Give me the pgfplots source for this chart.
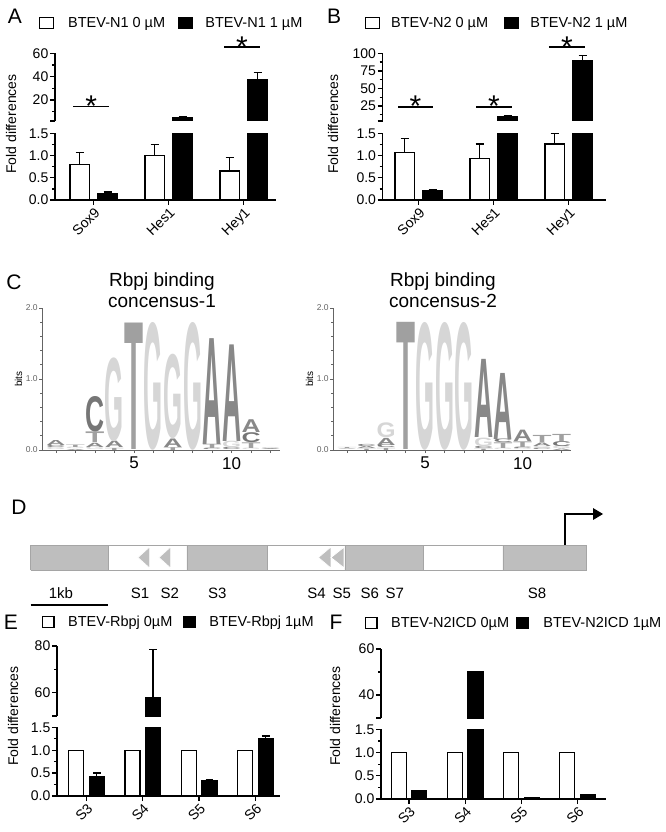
\documentclass[border=0pt]{standalone}
\usepackage{pgfplots}
\pgfplotsset{compat=1.18}
\usepackage{pgfplotstable}
\usepackage{fontspec}
\setmainfont{Liberation Sans}
\usepackage{graphicx}
\usetikzlibrary{arrows.meta}
\newcommand{\fs}[1]{\fontsize{#1pt}{#1pt}\selectfont}
\definecolor{lG}{RGB}{214,214,214}
\definecolor{lT}{RGB}{160,160,160}
\definecolor{lA}{RGB}{136,136,136}
\definecolor{lC}{RGB}{118,118,118}
\definecolor{segG}{RGB}{190,190,190}
\definecolor{segD}{RGB}{165,165,165}
\definecolor{axG}{RGB}{100,100,100}

\pgfplotstableread{
x w we b be
0 0.80 0.27 0.15 0.03
1 1.00 0.25 4.5 1.0
2 0.65 0.30 37.2 6.2
}\Adata
\pgfplotstableread{
x w we b be
0 1.07 0.32 0.21 0.02
1 0.93 0.33 9.8 1.4
2 1.26 0.24 89 7.6
}\Bdata
\pgfplotstableread{
x w b be
0 1 0.43 0.07
1 1 57.8 20.7
2 1 0.33 0.02
3 1 1.26 0.05
}\Edata
\pgfplotstableread{
x w b
0 1 0.18
1 1 50
2 1 0.02
3 1 0.10
}\Fdata
\pgfplotstableread{
x y h L
1 0 0.03 G
1 0.03 0.03 C
1 0.06 0.07 A
2 0 0.015 A
2 0.015 0.02 G
2 0.035 0.035 T
3 0 0.04 G
3 0.04 0.06 A
3 0.10 0.15 T
3 0.25 0.50 C
4 0 0.03 T
4 0.03 0.09 A
4 0.12 1.18 G
5 0 1.78 T
6 0 1.80 G
7 0 0.04 T
7 0.04 0.12 A
7 0.16 1.19 G
8 0 1.80 G
9 0 0.02 C
9 0.02 0.06 T
9 0.08 1.49 A
10 0 0.03 C
10 0.03 0.09 G
10 0.12 1.36 A
11 0 0.02 G
11 0.02 0.08 T
11 0.10 0.14 C
11 0.24 0.18 A
12 0 0.01 T
12 0.01 0.015 A
12 0.025 0.015 G
}\LogoA
\pgfplotstableread{
x y h L
1 0 0.01 A
1 0.01 0.01 G
1 0.02 0.015 T
2 0 0.02 T
2 0.02 0.03 A
2 0.05 0.03 C
3 0 0.03 T
3 0.03 0.04 C
3 0.07 0.10 A
3 0.17 0.21 G
4 0 1.79 T
5 0 1.80 G
6 0 1.80 G
7 0 1.80 G
8 0 0.02 T
8 0.02 0.03 C
8 0.05 0.12 G
8 0.17 1.10 A
9 0 0.02 G
9 0.02 0.08 T
9 0.10 0.05 C
9 0.15 0.93 A
10 0 0.02 G
10 0.02 0.02 C
10 0.04 0.08 T
10 0.12 0.16 A
11 0 0.02 C
11 0.02 0.03 G
11 0.05 0.05 A
11 0.10 0.10 T
12 0 0.02 A
12 0.02 0.03 G
12 0.05 0.07 C
12 0.12 0.10 T
}\LogoB

\pgfplotsset{
  bax/.style={scale only axis, anchor=south west, axis y line*=left, tick align=outside,
    axis line style={line width=1.4pt, black}, tick style={line width=1.3pt, black},
    major tick length=5pt, minor tick length=3pt,
    yticklabel style={font=\fs{14}, inner xsep=1.5pt},
    xticklabel style={font=\fs{14}, rotate=45, anchor=north east, inner sep=1pt},
    legend cell align=left,
    legend style={draw=none, fill=none, inner sep=0pt, outer sep=0pt, anchor=west,
       legend columns=2, font=\fs{14.5}, nodes={inner sep=0pt}},
  },
  up/.style={bax, axis x line=none},
  lo/.style={bax, axis x line*=bottom, ymin=0, ymax=1.5, ytick={0,0.5,1,1.5},
    yticklabels={0.0,0.5,1.0,1.5}, minor ytick={0.25,0.75,1.25}},
  ov/.style={scale only axis, anchor=south west, hide axis, clip=false},
  lgbox/.style={legend image code/.code={\draw[##1, line width=1.2pt] (0pt,-5pt) rectangle (#1pt,6pt);}},
  wbarAB/.style={ybar, bar width=19.3pt, bar shift=0pt, fill=white, draw=black, line width=1.3pt, lgbox=14},
  kbarAB/.style={ybar, bar width=19.3pt, bar shift=0pt, fill=black, draw=black, line width=1.3pt, lgbox=14},
  wbarEF/.style={ybar, bar width=15pt, bar shift=0pt, fill=white, draw=black, line width=1.3pt, lgbox=11.6},
  kbarEF/.style={ybar, bar width=15pt, bar shift=0pt, fill=black, draw=black, line width=1.3pt, lgbox=11.6},
  ebar/.style={error bars/.cd, y dir=plus, y explicit, error bar style={line width=1.3pt, black},
    error mark options={rotate=90, mark size=#1, line width=1.3pt, black}},
  ebar/.default=4.2pt,
  sig/.style={black, line width=1.7pt},
  logoax/.style={scale only axis, anchor=south west, width=237.9pt, height=142pt,
    xmin=0.3, xmax=12.5, ymin=0, ymax=2, axis x line*=bottom, axis y line*=left, clip=false,
    axis line style={axG, line width=0.8pt}, tick style={axG, line width=0.8pt},
    tick align=outside, major tick length=3pt, minor tick length=2pt,
    xtick={1,2,3,4,5,6,7,8,9,10,11,12}, xticklabels={,,,,5,,,,,10,,},
    xticklabel style={font=\fs{17}, inner sep=1pt, yshift=-3pt},
    ytick={0,1,2}, yticklabels={0.0,1.0,2.0},
    minor ytick={0.2,0.4,0.6,0.8,1.2,1.4,1.6,1.8},
    yticklabel style={font=\fs{8.5}, text=axG, inner sep=1.5pt},
    ylabel={bits}, ylabel style={font=\fs{10}, text=axG},
    every axis y label/.style={at={(axis description cs:-0.1,0.5)}, rotate=90, anchor=center}},
  letters/.style={only marks, mark=none, point meta=explicit symbolic,
    visualization depends on={71*\thisrow{h} \as \hh},
    nodes near coords={\resizebox*{19pt}{\hh pt}{\textcolor{l\pgfplotspointmeta}{\bfseries\pgfplotspointmeta}}},
    every node near coord/.append style={anchor=south, inner sep=0pt, outer sep=0pt}},
}
\tikzset{star/.style={anchor=base, yshift=-9.7pt, font=\fs{30}, inner sep=0pt}}

\begin{document}
\begin{tikzpicture}
\path[use as bounding box] (0,0) rectangle (666pt,-832pt);

% ---------------- Panel A ----------------
\begin{axis}[up, at={(55pt,-121pt)}, width=221pt, height=67.7pt,
  xmin=-0.516, xmax=2.43, ymin=2, ymax=60,
  ytick={20,40,60}, yticklabels={20,40,60}, minor ytick={10,30,50},
  extra y ticks={2}, extra y tick labels={}]
 \addplot[kbarAB, restrict y to domain=2:1000, ebar] table[x expr=\thisrow{x}+0.1867, y=b, y error=be] {\Adata};
\end{axis}
\begin{axis}[lo, at={(55pt,-200pt)}, width=221pt, height=66.7pt,
  xmin=-0.516, xmax=2.43, xtick={0,1,2}, xticklabels={Sox9,Hes1,Hey1},
  legend style={at={(-0.0724,2.654)}}]
 \addplot[wbarAB, ebar] table[x expr=\thisrow{x}-0.1867, y=w, y error=we] {\Adata};
 \addlegendentry{\makebox[124pt][l]{\hspace{14pt}BTEV-N1 0 µM}}
 \addplot[kbarAB, ebar] table[x expr=\thisrow{x}+0.1867, y=b, y error=be] {\Adata};
 \addlegendentry{\hspace{12pt}BTEV-N1 1 µM}
\end{axis}
\begin{axis}[ov, at={(55pt,-121pt)}, width=221pt, height=67.7pt,
  xmin=-0.516, xmax=2.43, ymin=2, ymax=60]
 \addplot[sig] coordinates {(-0.272,14.3) (0.204,14.3)};
 \addplot[sig] coordinates {(1.737,65.1) (2.217,65.1)};
 \node[star] at (axis cs:-0.034,14.3) {*};
 \node[star] at (axis cs:1.977,65.1) {*};
\end{axis}

% ---------------- Panel B ----------------
\begin{axis}[up, at={(382.7pt,-121pt)}, width=223.3pt, height=67.7pt,
  xmin=-0.48, xmax=2.497, ymin=3.7, ymax=100,
  ytick={25,50,75,100}, yticklabels={25,50,75,100}, minor ytick={12.5,37.5,62.5,87.5},
  extra y ticks={3.7}, extra y tick labels={}]
 \addplot[kbarAB, restrict y to domain=3.7:1000, ebar] table[x expr=\thisrow{x}+0.1867, y=b, y error=be] {\Bdata};
\end{axis}
\begin{axis}[lo, at={(382.7pt,-200pt)}, width=223.3pt, height=66.7pt,
  xmin=-0.48, xmax=2.497, xtick={0,1,2}, xticklabels={Sox9,Hes1,Hey1},
  legend style={at={(-0.0793,2.654)}}]
 \addplot[wbarAB, ebar] table[x expr=\thisrow{x}-0.1867, y=w, y error=we] {\Bdata};
 \addlegendentry{\makebox[124pt][l]{\hspace{11pt}BTEV-N2 0 µM}}
 \addplot[kbarAB, ebar] table[x expr=\thisrow{x}+0.1867, y=b, y error=be] {\Bdata};
 \addlegendentry{\hspace{11pt}BTEV-N2 1 µM}
\end{axis}
\begin{axis}[ov, at={(382.7pt,-121pt)}, width=223.3pt, height=67.7pt,
  xmin=-0.48, xmax=2.497, ymin=3.7, ymax=100]
 \addplot[sig] coordinates {(-0.276,23.4) (0.19,23.4)};
 \addplot[sig] coordinates {(0.764,23.4) (1.244,23.4)};
 \addplot[sig] coordinates {(1.737,108.5) (2.217,108.5)};
 \node[star] at (axis cs:-0.043,23.4) {*};
 \node[star] at (axis cs:1.004,23.4) {*};
 \node[star] at (axis cs:1.977,108.5) {*};
\end{axis}

% ---------------- Panel C ----------------
\node[align=center, font=\fontsize{19pt}{21pt}\selectfont, inner sep=0pt] at (162pt,-290pt) {Rbpj binding\\concensus-1};
\node[align=center, font=\fontsize{19pt}{21pt}\selectfont, inner sep=0pt] at (443pt,-290pt) {Rbpj binding\\concensus-2};
\begin{axis}[logoax, at={(42.35pt,-450pt)}]
 \addplot[letters] table[x=x, y=y, meta=L] {\LogoA};
\end{axis}
\begin{axis}[logoax, at={(333.4pt,-450pt)}]
 \addplot[letters] table[x=x, y=y, meta=L] {\LogoB};
\end{axis}

% ---------------- Panel D ----------------
\begin{axis}[hide axis, clip=false, x=77.8pt, y=25pt, xmin=0, xmax=7.4, ymin=-1.6, ymax=2.4,
  anchor=south west, at={(30.6pt,-610pt)}]
 \addplot[fill=segG, draw=segD, line width=0.6pt] coordinates {(0,0) (1,0) (1,1) (0,1) (0,0)};
 \addplot[fill=white, draw=segD, line width=0.6pt] coordinates {(1,0) (2.01,0) (2.01,1) (1,1) (1,0)};
 \addplot[fill=segG, draw=segD, line width=0.6pt] coordinates {(2.01,0) (3.04,0) (3.04,1) (2.01,1) (2.01,0)};
 \addplot[fill=white, draw=segD, line width=0.6pt] coordinates {(3.04,0) (4.04,0) (4.04,1) (3.04,1) (3.04,0)};
 \addplot[fill=segG, draw=segD, line width=0.6pt] coordinates {(4.04,0) (5.05,0) (5.05,1) (4.04,1) (4.04,0)};
 \addplot[fill=white, draw=segD, line width=0.6pt] coordinates {(5.05,0) (6.07,0) (6.07,1) (5.05,1) (5.05,0)};
 \addplot[fill=segG, draw=segD, line width=0.6pt] coordinates {(6.07,0) (7.14,0) (7.14,1) (6.07,1) (6.07,0)};
 \addplot[fill=segG, draw=white, line width=0.6pt] coordinates {(1.53,0.08) (1.53,0.92) (1.38,0.5) (1.53,0.08)};
 \addplot[fill=segG, draw=white, line width=0.6pt] coordinates {(1.80,0.08) (1.80,0.92) (1.65,0.5) (1.80,0.08)};
 \addplot[fill=segG, draw=white, line width=0.6pt] coordinates {(3.86,0.08) (3.86,0.92) (3.70,0.5) (3.86,0.08)};
 \addplot[fill=segG, draw=white, line width=0.8pt] coordinates {(4.03,0.08) (4.03,0.92) (3.86,0.5) (4.03,0.08)};
 \addplot[black, line width=2.4pt, line join=miter, -{Triangle[length=10pt, width=11pt]}] coordinates {(6.87,1) (6.87,2.24) (7.36,2.24)};
 \addplot[black, line width=1.8pt] coordinates {(0,-1.4) (1,-1.4)};
 \node[font=\fs{15}] at (axis cs:0.39,-0.92) {1kb};
 \node[font=\fs{15}] at (axis cs:1.406,-0.92) {S1};
 \node[font=\fs{15}] at (axis cs:1.79,-0.92) {S2};
 \node[font=\fs{15}] at (axis cs:2.40,-0.92) {S3};
 \node[font=\fs{15}] at (axis cs:3.675,-0.92) {S4};
 \node[font=\fs{15}] at (axis cs:4.0,-0.92) {S5};
 \node[font=\fs{15}] at (axis cs:4.36,-0.92) {S6};
 \node[font=\fs{15}] at (axis cs:4.68,-0.92) {S7};
 \node[font=\fs{15}] at (axis cs:6.51,-0.92) {S8};
\end{axis}

% ---------------- Panel E ----------------
\begin{axis}[up, at={(57pt,-716pt)}, width=223pt, height=70pt,
  xmin=-0.524, xmax=3.437, ymin=50, ymax=80,
  ytick={60,80}, yticklabels={60,80}, minor ytick={70},
  extra y ticks={50}, extra y tick labels={}]
 \addplot[kbarEF, restrict y to domain=50:1000, ebar=3.8pt] table[x expr=\thisrow{x}+0.183, y=b, y error=be] {\Edata};
\end{axis}
\begin{axis}[lo, at={(57pt,-796pt)}, width=223pt, height=68.7pt,
  xmin=-0.524, xmax=3.437, xtick={0,1,2,3}, xticklabels={S3,S4,S5,S6},
  legend style={at={(-0.0686,2.533)}}]
 \addplot[wbarEF] table[x expr=\thisrow{x}-0.183, y=w] {\Edata};
 \addlegendentry{\makebox[128.7pt][l]{\hspace{13.7pt}BTEV-Rbpj 0µM}}
 \addplot[kbarEF, ebar=3.8pt] table[x expr=\thisrow{x}+0.183, y=b, y error=be] {\Edata};
 \addlegendentry{\hspace{13.4pt}BTEV-Rbpj 1µM}
\end{axis}

% ---------------- Panel F ----------------
\begin{axis}[up, at={(381pt,-718pt)}, width=225pt, height=69pt,
  xmin=-0.498, xmax=3.505, ymin=30, ymax=60,
  ytick={40,60}, yticklabels={40,60}, minor ytick={50},
  extra y ticks={30}, extra y tick labels={}]
 \addplot[kbarEF, restrict y to domain=30:1000] table[x expr=\thisrow{x}+0.183, y=b] {\Fdata};
\end{axis}
\begin{axis}[lo, at={(381pt,-799pt)}, width=225pt, height=69.7pt,
  xmin=-0.498, xmax=3.505, xtick={0,1,2,3}, xticklabels={S3,S4,S5,S6},
  legend style={at={(-0.0724,2.525)}}]
 \addplot[wbarEF] table[x expr=\thisrow{x}-0.183, y=w] {\Fdata};
 \addlegendentry{\makebox[138.7pt][l]{\hspace{13.7pt}BTEV-N2ICD 0µM}}
 \addplot[kbarEF] table[x expr=\thisrow{x}+0.183, y=b] {\Fdata};
 \addlegendentry{\hspace{14.4pt}BTEV-N2ICD 1µM}
\end{axis}

% ---------------- labels ----------------
\node[font=\fs{21}] at (15pt,-16pt) {A};
\node[font=\fs{21}] at (334pt,-16pt) {B};
\node[font=\fs{21}] at (14pt,-282pt) {C};
\node[font=\fs{21}] at (19pt,-507pt) {D};
\node[font=\fs{21}] at (11pt,-622pt) {E};
\node[font=\fs{21}] at (336pt,-622pt) {F};
\node[rotate=90, font=\fs{14}] at (11pt,-124pt) {Fold differences};
\node[rotate=90, font=\fs{14}] at (333pt,-124pt) {Fold differences};
\node[rotate=90, font=\fs{14}] at (13pt,-716pt) {Fold differences};
\node[rotate=90, font=\fs{14}] at (335pt,-716pt) {Fold differences};
\end{tikzpicture}
\end{document}
